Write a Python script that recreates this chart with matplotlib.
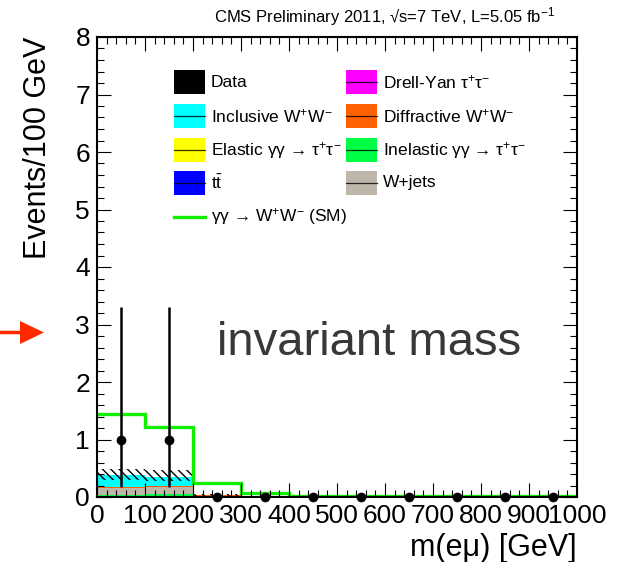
import numpy as np
import matplotlib
matplotlib.use("Agg")
import matplotlib.pyplot as plt
from matplotlib.patches import Rectangle, FancyArrow
from matplotlib.lines import Line2D

plt.rcParams['font.family'] = ['Liberation Sans', 'DejaVu Sans']
plt.rcParams['mathtext.fontset'] = 'custom'
plt.rcParams['mathtext.rm'] = 'Liberation Sans'
plt.rcParams['mathtext.it'] = 'Liberation Sans:italic'
plt.rcParams['hatch.linewidth'] = 1.0
plt.rcParams['hatch.color'] = 'black'

# m(e mu) binning, 100 GeV bins
bin_edges = [0, 100, 200, 300, 400, 500, 600, 700, 800, 900, 1000]

# data (events per bin) and Poisson errors
data = [1, 1, 0, 0, 0, 0, 0, 0, 0, 0]
data_err_lo = [0.83, 0.83, 0, 0, 0, 0, 0, 0, 0, 0]
data_err_hi = [2.30, 2.30, 0, 0, 0, 0, 0, 0, 0, 0]

# backgrounds (stacked, bottom to top)
elastic_tautau = [0.01, 0.01, 0, 0, 0, 0, 0, 0, 0, 0]
inelastic_tautau = [0.02, 0.035, 0, 0, 0, 0, 0, 0, 0, 0]
wjets = [0.125, 0.135, 0, 0, 0, 0, 0, 0, 0, 0]
diffractive_ww = [0.02, 0.005, 0.03, 0, 0, 0, 0, 0, 0, 0]
inclusive_ww = [0.205, 0.16, 0, 0, 0, 0, 0, 0, 0, 0]
ttbar = [0, 0, 0, 0, 0, 0, 0, 0, 0, 0]
drell_yan = [0, 0, 0, 0, 0, 0, 0, 0, 0, 0]

# uncertainty band on total background
band_lo = [0.30, 0.27, 0.0, 0, 0, 0, 0, 0, 0, 0]
band_hi = [0.49, 0.47, 0.06, 0, 0, 0, 0, 0, 0, 0]

# gamma gamma -> WW signal (SM)
signal_sm = [1.45, 1.22, 0.24, 0.07, 0.02, 0.01, 0.01, 0.01, 0.01, 0.01]

stack = [
    (elastic_tautau, '#ffff00'),
    (inelastic_tautau, '#00ff44'),
    (wjets, '#bfb6aa'),
    (diffractive_ww, '#ff6000'),
    (inclusive_ww, '#00ffff'),
    (ttbar, '#0000ff'),
    (drell_yan, '#ff00ff'),
]

fig = plt.figure(figsize=(6.19, 5.62), dpi=100)
ax = fig.add_axes([97 / 619, 65 / 562, 480 / 619, 460 / 562])

edges = np.array(bin_edges, dtype=float)
bottom = np.zeros(len(edges) - 1)
for vals, col in stack:
    top = bottom + np.array(vals, dtype=float)
    ax.stairs(top, edges, baseline=bottom, fill=True, color=col, lw=0)
    bottom = top

ax.stairs(band_hi, edges, baseline=band_lo, fill=True, facecolor='none',
          edgecolor='black', hatch='\\\\\\\\', lw=0)

ax.stairs(signal_sm, edges, color='#11ee00', lw=2.4, baseline=None)

centers = 0.5 * (edges[:-1] + edges[1:])
ax.errorbar(centers, data, yerr=[data_err_lo, data_err_hi], fmt='o', color='black',
            ms=6, lw=1.8, capsize=0, zorder=5, clip_on=False)

ax.set_xlim(0, 1000)
ax.set_ylim(0, 8)
ax.set_xticks(np.arange(0, 1001, 100))
ax.set_xticks(np.arange(0, 1001, 20), minor=True)
ax.set_yticks(np.arange(0, 9, 1))
ax.set_yticks(np.arange(0, 8.01, 0.2), minor=True)
ax.tick_params(which='both', direction='in', top=True, right=True, width=0.8)
ax.tick_params(which='major', length=10, labelsize=19, pad=5)
ax.tick_params(which='minor', length=5)
for s in ax.spines.values():
    s.set_linewidth(1.5)

ax.text(-0.123, 1.0, 'Events/100 GeV', rotation=90, ha='center', va='top',
        fontsize=22, transform=ax.transAxes)
ax.text(1.0, -0.078, 'm(e\u03bc) [GeV]', ha='right', va='top', fontsize=22,
        transform=ax.transAxes)

fig.text(555 / 619, (562 - 22) / 562,
         'CMS Preliminary 2011, \u221as=7 TeV, L=5.05 fb$^{-1}$',
         ha='right', va='baseline', fontsize=12)

# legend, two columns, ROOT style
legend_rows = [
    [('Data', 'black', 'box'), ('Drell-Yan \u03c4$^{+}$\u03c4$^{-}$', '#ff00ff', 'box')],
    [('Inclusive W$^{+}$W$^{-}$', '#00ffff', 'box'), ('Diffractive W$^{+}$W$^{-}$', '#ff6000', 'box')],
    [('Elastic \u03b3\u03b3 \u2192 \u03c4$^{+}$\u03c4$^{-}$', '#ffff00', 'box'),
     ('Inelastic \u03b3\u03b3 \u2192 \u03c4$^{+}$\u03c4$^{-}$', '#00ff44', 'box')],
    [(r't$\bar{\mathrm{t}}$', '#0000ff', 'box'), ('W+jets', '#bfb6aa', 'box')],
    [('\u03b3\u03b3 \u2192 W$^{+}$W$^{-}$ (SM)', '#11ee00', 'line')],
]
col_x = [0.160, 0.519]
row_y = [0.902, 0.828, 0.754, 0.683, 0.609]
box_w, box_h = 0.0646, 0.052
for r, row in enumerate(legend_rows):
    for c, (label, col, kind) in enumerate(row):
        x0, yc = col_x[c], row_y[r]
        if kind == 'box':
            ax.add_patch(Rectangle((x0, yc - box_h / 2), box_w, box_h, transform=ax.transAxes,
                                   facecolor=col, edgecolor='none', zorder=6))
            if col != 'black':
                ax.add_line(Line2D([x0, x0 + box_w], [yc, yc], transform=ax.transAxes,
                                   color='black', lw=0.9, alpha=0.8, zorder=7))
        else:
            ax.add_line(Line2D([x0, x0 + box_w], [yc, yc], transform=ax.transAxes,
                               color=col, lw=2.4, zorder=7))
        ax.text(x0 + box_w + 0.0125, yc, label, ha='left', va='center', fontsize=12.5,
                transform=ax.transAxes, zorder=7)

# annotation overlay (pixel coordinates)
over = fig.add_axes([0, 0, 1, 1])
over.set_xlim(0, 619)
over.set_ylim(562, 0)
over.axis('off')
over.add_patch(FancyArrow(0, 332.5, 44, 0, width=3.5, head_width=23, head_length=24,
                          length_includes_head=True, color='#ff2a00', lw=0))
over.text(217, 355, 'invariant mass', fontsize=34, color='#383838', ha='left',
          va='baseline')

fig.savefig('out.png', dpi=100)
